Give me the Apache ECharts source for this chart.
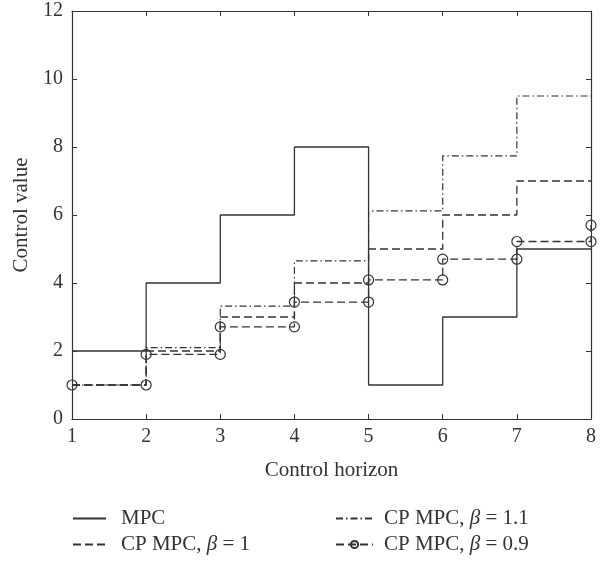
<!DOCTYPE html>
<html>
<head>
<meta charset="utf-8">
<script src="https://cdn.jsdelivr.net/npm/echarts@6/dist/echarts.min.js"></script>
<style>html,body{margin:0;padding:0;background:#fff}#c{width:607px;height:561px}</style>
</head>
<body>
<div id="c"></div>
<script>
// Data
var horizon = [1, 2, 3, 4, 5, 6, 7, 8];
var mpc      = [2, 4, 6, 8, 1, 3, 5, 5];
var cpBeta1  = [1, 2, 3, 4, 5, 6, 7, 7];
var cpBeta11 = [1, 2.1, 3.32, 4.65, 6.12, 7.74, 9.5, 9.5];
var cpBeta09 = [1, 1.9, 2.71, 3.44, 4.09, 4.70, 5.22, 5.7];
var xTicks = [1, 2, 3, 4, 5, 6, 7, 8];
var yTicks = [0, 2, 4, 6, 8, 10, 12];

var names = ['MPC', 'CP MPC, β = 1', 'CP MPC, β = 1.1', 'CP MPC, β = 0.9'];

// MATLAB-style stairs vertices from the data arrays
function stairs(xs, ys) {
  var out = [[xs[0], ys[0]]];
  for (var i = 1; i < xs.length; i++) {
    out.push([xs[i], ys[i - 1]]);
    out.push([xs[i], ys[i]]);
  }
  return out;
}

var ink = '#333333';
var font = '"Liberation Serif", "DejaVu Serif", serif';
var clear = 'rgba(0,0,0,0)';

function makeFmt(gap) {
  return function (name) {
    var m = name.match(/^(.*)β(.*)$/);
    var s = '{s' + gap + '|}';
    if (!m) return s + '{n|' + name + '}';
    return s + '{n|' + m[1] + '}{i|β}{n|' + m[2] + '}';
  };
}
var rich = {
  s10: {width: 10},
  s6: {width: 6},
  n: {fontFamily: font, fontSize: 21, color: ink},
  i: {fontFamily: font, fontSize: 21, color: ink, fontStyle: 'italic'}
};

function legendItem(name, left, top, w, h, gap) {
  return {
    data: [name], orient: 'horizontal', left: left, top: top,
    itemWidth: w, itemHeight: h, padding: 0, selectedMode: false,
    formatter: makeFmt(gap), textStyle: {rich: rich}
  };
}

var chart = echarts.init(document.getElementById('c'), null, {renderer: 'canvas'});
var axisCommon = {
  axisLine: {show: true, onZero: false, lineStyle: {color: ink, width: 1.2}},
  axisTick: {show: true, inside: true, length: 5, lineStyle: {color: ink, width: 1}},
  splitLine: {show: false}
};
chart.setOption({
  animation: false,
  backgroundColor: '#ffffff',
  textStyle: {fontFamily: font, color: ink},
  grid: {left: 72, right: 16, top: 11, bottom: 142, containLabel: false},
  xAxis: [
    Object.assign({}, axisCommon, {
      type: 'value', min: xTicks[0], max: xTicks[xTicks.length - 1], interval: 1, position: 'bottom',
      name: 'Control horizon', nameLocation: 'middle', nameGap: 41,
      nameTextStyle: {fontFamily: font, fontSize: 21, color: ink},
      axisLabel: {fontFamily: font, fontSize: 20, color: ink, margin: 8}
    }),
    Object.assign({}, axisCommon, {
      type: 'value', min: xTicks[0], max: xTicks[xTicks.length - 1], interval: 1, position: 'top',
      axisLabel: {show: false}
    })
  ],
  yAxis: [
    Object.assign({}, axisCommon, {
      type: 'value', min: yTicks[0], max: yTicks[yTicks.length - 1], interval: 2, position: 'left',
      name: 'Control value', nameLocation: 'middle', nameGap: 40, nameRotate: 90,
      nameTextStyle: {fontFamily: font, fontSize: 21, color: ink},
      axisLabel: {fontFamily: font, fontSize: 20, color: ink, margin: 9}
    }),
    Object.assign({}, axisCommon, {
      type: 'value', min: yTicks[0], max: yTicks[yTicks.length - 1], interval: 2, position: 'right',
      axisLabel: {show: false}
    })
  ],
  legend: [
    legendItem(names[0], 72, 508, 33, 14, 10),
    legendItem(names[1], 72, 534, 33, 14, 10),
    legendItem(names[2], 335, 508, 37, 14, 6),
    legendItem(names[3], 335, 534, 37, 9, 6)
  ],
  series: [
    {
      name: names[0], type: 'line', data: stairs(horizon, mpc), symbol: 'none',
      lineStyle: {color: ink, width: 1.3, type: 'solid'},
      itemStyle: {color: clear, borderColor: clear, borderWidth: 0}, z: 5
    },
    {
      name: names[1], type: 'line', data: stairs(horizon, cpBeta1), symbol: 'none',
      lineStyle: {color: ink, width: 1.3, type: [8, 4]},
      itemStyle: {color: clear, borderColor: clear, borderWidth: 0}, z: 3
    },
    {
      name: names[2], type: 'line', data: stairs(horizon, cpBeta11), symbol: 'none',
      lineStyle: {color: ink, width: 1.2, type: [7, 3, 1.5, 3]},
      itemStyle: {color: clear, borderColor: clear, borderWidth: 0}, z: 2
    },
    {
      name: names[3], type: 'line', data: stairs(horizon, cpBeta09),
      symbol: 'circle', symbolSize: 10, showAllSymbol: true,
      lineStyle: {color: ink, width: 1.3, type: [8, 4]},
      itemStyle: {color: clear, borderColor: ink, borderWidth: 1.2}, z: 4
    }
  ]
});
</script>
</body>
</html>
